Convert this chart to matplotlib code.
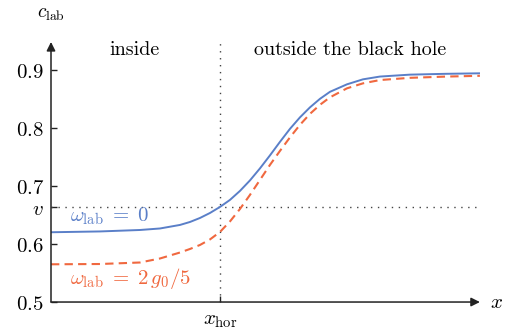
import matplotlib
matplotlib.use("Agg")
import matplotlib.pyplot as plt
import numpy as np

plt.rcParams["mathtext.fontset"] = "cm"

# x in units where x_hor = 0
x_pts = [-3.38, -2.4, -1.6, -1.2, -0.8, -0.6, -0.4, -0.2, 0.0, 0.2, 0.4, 0.6,
         0.8, 1.0, 1.2, 1.4, 1.6, 1.8, 2.0, 2.2, 2.54, 2.86, 3.2, 3.8, 4.5, 5.2]
c_w0 = [0.6202, 0.6216, 0.6241, 0.6267, 0.6328, 0.6379, 0.6448, 0.6534,
        0.6638, 0.6759, 0.6914, 0.7095, 0.7302, 0.7526, 0.7759, 0.7983,
        0.8181, 0.8353, 0.8500, 0.8621, 0.8750, 0.8836, 0.8884, 0.8917,
        0.8931, 0.8940]
c_w2 = [0.5650, 0.5655, 0.5681, 0.5750, 0.5853, 0.5914, 0.5983, 0.6078,
        0.6207, 0.6388, 0.6603, 0.6845, 0.7103, 0.7362, 0.7603, 0.7836,
        0.8052, 0.8241, 0.8397, 0.8526, 0.8681, 0.8767, 0.8824, 0.8862,
        0.8883, 0.8897]

v = 0.664
yticks = [0.5, 0.6, v, 0.7, 0.8, 0.9]
ytick_labels = ["$0.5$", "$0.6$", "$v$", "$0.7$", "$0.8$", "$0.9$"]

blue = "#5a7fc8"
red = "#f0683f"

fig = plt.figure(figsize=(5.1, 3.33), dpi=100)
ax = fig.add_axes([0.1, 0.093, 0.841, 0.781])
ax.set_xlim(-3.38, 5.2)
ax.set_ylim(0.5, 0.948)

for s in ["top", "right", "left", "bottom"]:
    ax.spines[s].set_visible(False)

# axes with arrows
ax.annotate("", xy=(1, 0), xytext=(0, 0), xycoords="axes fraction",
            arrowprops=dict(arrowstyle="-|>", color="#222222", lw=1.1,
                            mutation_scale=13, shrinkA=0, shrinkB=0))
ax.annotate("", xy=(0, 1), xytext=(0, 0), xycoords="axes fraction",
            arrowprops=dict(arrowstyle="-|>", color="#222222", lw=1.1,
                            mutation_scale=13, shrinkA=0, shrinkB=0))

# guide lines
ax.plot([0, 0], [0.5, 0.95], color="#444444", lw=1, ls=(0, (1, 4)))
ax.plot([-3.38, 5.2], [v, v], color="#444444", lw=1, ls=(0, (1, 4)))

ax.plot(x_pts, c_w0, color=blue, lw=1.4, solid_joinstyle="round")
ax.plot(x_pts, c_w2, color=red, lw=1.5, ls=(0, (4, 2.5)), dash_joinstyle="round")

ax.set_yticks(yticks)
ax.set_yticklabels(ytick_labels, fontsize=15)
ax.set_xticks([0])
ax.set_xticklabels([r"$x_{\rm hor}$"], fontsize=15)
ax.tick_params(direction="in", length=4, width=1, color="#222222")
ax.tick_params(axis="y", pad=5)
ax.tick_params(axis="x", pad=6)

ax.text(-3.0, 0.648, r"$\omega_{\rm lab}\;=\;0$", color=blue, fontsize=15, va="center")
ax.text(-3.0, 0.541, r"$\omega_{\rm lab}\;=\;2\,g_0/5$", color=red, fontsize=15, va="center")

ax.text(-1.7, 0.934, "inside", fontsize=14.5, family="cmr10", ha="center", va="center")
ax.text(2.6, 0.934, "outside the black hole", fontsize=14.5, family="cmr10",
        ha="center", va="center")

ax.text(-3.38, 0.997, r"$c_{\rm lab}$", fontsize=14, ha="center", va="center", clip_on=False)
ax.text(5.54, 0.5, r"$x$", fontsize=15, ha="center", va="center", clip_on=False)

fig.savefig("out.png", dpi=100)
